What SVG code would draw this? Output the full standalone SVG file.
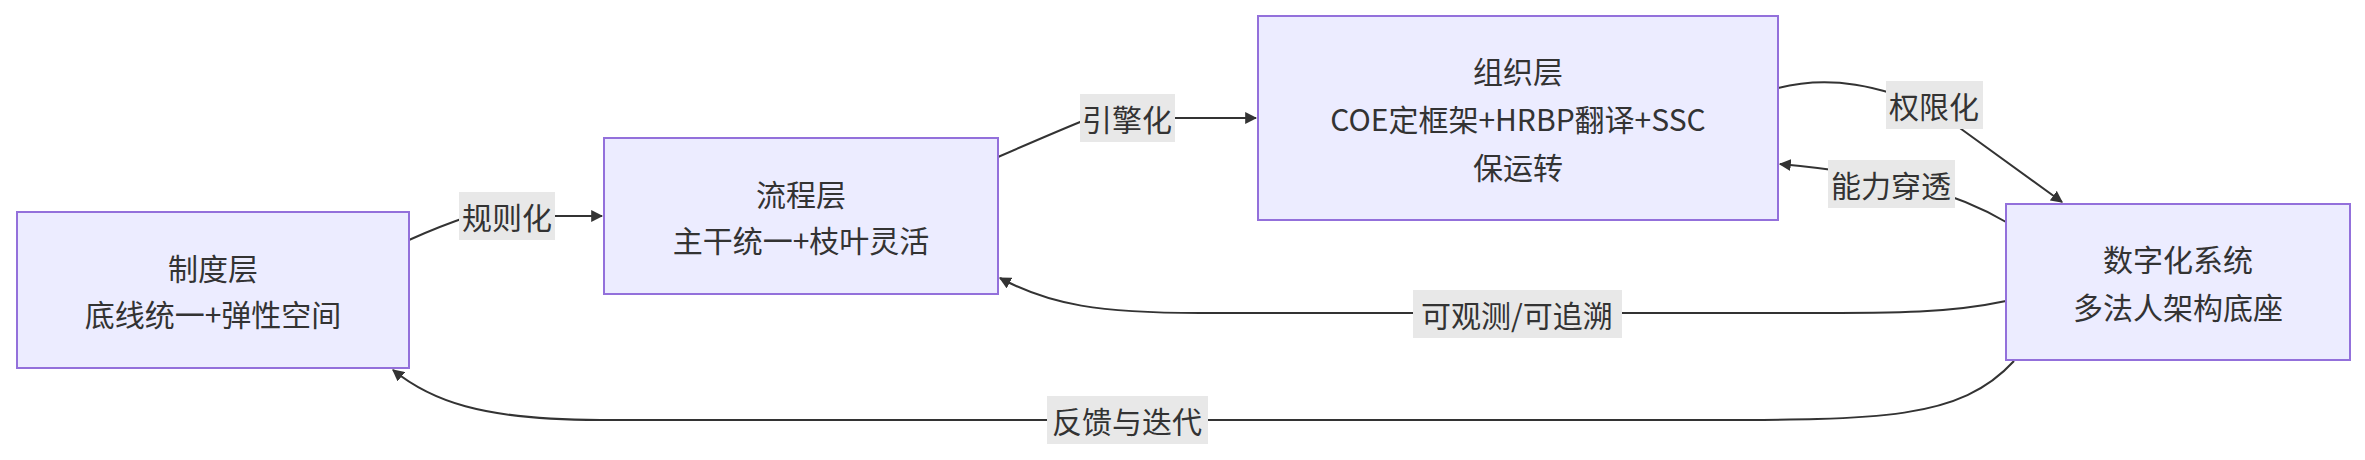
<svg xmlns="http://www.w3.org/2000/svg" width="2365" height="460" viewBox="0 0 2365 460">
<style>
.n{fill:#ECECFF;stroke:#9370DB;stroke-width:2}
text{font-family:"Noto Sans CJK SC","Noto Sans",sans-serif;font-size:30px;fill:#333;text-anchor:middle;dominant-baseline:central}
.e{fill:none;stroke:#333;stroke-width:2}
.lb{fill:#e8e8e8}
</style>
<defs><marker id="a" viewBox="0 0 10 10" refX="9" refY="5" markerWidth="9" markerHeight="9" markerUnits="userSpaceOnUse" orient="auto"><path d="M0,0L10,5L0,10z" fill="#333"/></marker>
<marker id="h" viewBox="0 0 10 10" refX="9" refY="5" markerWidth="12" markerHeight="12" orient="auto" markerUnits="userSpaceOnUse"><path d="M0,0L10,5L0,10z" fill="#333"/></marker></defs>
<g id="edges">
<path class="e" d="M409,240 Q440,226 470,216 L602,216" marker-end="url(#h)"/>
<path class="e" d="M998,157 Q1060,130 1090,118 L1256,118" marker-end="url(#h)"/>
<path class="e" d="M1778,88 C1830,75 1880,85 1935,110 L2062,202" marker-end="url(#h)"/>
<path class="e" d="M2006,222 C1960,195 1900,175 1780,164" marker-end="url(#h)"/>
<path class="e" d="M2006,301 C1950,313 1900,313 1800,313 L1200,313 C1100,313 1050,305 1000,278" marker-end="url(#h)"/>
<path class="e" d="M2014,361 C1960,420 1880,420 1700,420 L600,420 C480,420 430,400 393,370" marker-end="url(#h)"/>
<rect class="lb" x="459" y="192" width="96" height="48"/><text x="507" y="216">规则化</text>
<rect class="lb" x="1080" y="94" width="95" height="48"/><text x="1127" y="118">引擎化</text>
<rect class="lb" x="1886" y="81" width="97" height="48"/><text x="1934" y="105">权限化</text>
<rect class="lb" x="1828" y="160" width="127" height="48"/><text x="1891" y="184">能力穿透</text>
<rect class="lb" x="1413" y="290" width="209" height="48"/><text x="1517" y="314">可观测/可追溯</text>
<rect class="lb" x="1047" y="396" width="161" height="48"/><text x="1127" y="420">反馈与迭代</text>
</g>
<g id="n1"><rect class="n" x="17" y="212" width="392" height="156"/><text x="213" y="267">制度层</text><text x="213" y="313">底线统一+弹性空间</text></g>
<g id="n2"><rect class="n" x="604" y="138" width="394" height="156"/><text x="801" y="193">流程层</text><text x="801" y="239">主干统一+枝叶灵活</text></g>
<g id="n3"><rect class="n" x="1258" y="16" width="520" height="204"/><text x="1518" y="70">组织层</text><text x="1518" y="118">COE定框架+HRBP翻译+SSC</text><text x="1518" y="166">保运转</text></g>
<g id="n4"><rect class="n" x="2006" y="204" width="344" height="156"/><text x="2178" y="258">数字化系统</text><text x="2178" y="306">多法人架构底座</text></g>
</svg>
